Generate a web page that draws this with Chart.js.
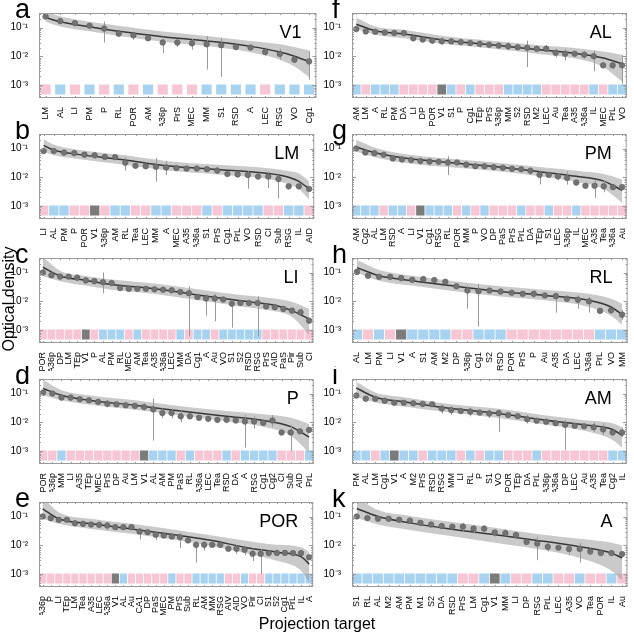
<!DOCTYPE html>
<html>
<head>
<meta charset="utf-8">
<script src="https://cdn.jsdelivr.net/npm/chart.js@4.4.1/dist/chart.umd.min.js"></script>
<style>
  body { margin: 0; background: #fff; width: 634px; height: 639px; position: relative; overflow: hidden;
         font-family: "Liberation Sans", Arial, sans-serif; }
  canvas { position: absolute; }
</style>
</head>
<body>
<canvas id="titles" width="634" height="639" style="left:0;top:0"></canvas>
<script>
// ---- data: one block of small arrays per panel ----
// groups: p = pink, b = blue, g = grey square

// a: V1
const aLabels = ["LM","AL","LI","PM","P","RL","POR","AM","A36p","PrS","MEC","MM","S1","RSD","A","LEC","RSG","VO","Cg1"];
const aGroups = "pbpbpbpbpppbbbbpbbb".split("");
const aValues = [0.24,0.167,0.142,0.115,0.092,0.061,0.054,0.042,0.030,0.030,0.028,0.026,0.024,0.021,0.020,0.014,0.012,0.0076,0.0066];
const aErrIdx = [2,3,4,5,6,7,8,9,10,11,12,13,15,16,17,18];
const aErrLo = [0.11,0.085,0.03,0.05,0.038,0.034,0.013,0.021,0.017,0.0034,0.0019,0.016,0.01,0.0075,0.0058,0.0015];
const aErrHi = [0.17,0.14,0.16,0.07,0.068,0.052,0.047,0.04,0.04,0.05,0.044,0.028,0.018,0.018,0.01,0.015];
const aFitX = [0,1,3,5,8,11,14,16,17,18];
const aFit = [0.225,0.158,0.106,0.074,0.048,0.034,0.022,0.014,0.010,0.0065];
const aBandHi = [0.36,0.245,0.158,0.115,0.072,0.051,0.034,0.026,0.021,0.016];
const aBandLo = [0.158,0.108,0.074,0.051,0.032,0.0225,0.0138,0.0076,0.0044,0.0019];

// b: LM
const bLabels = ["LI","AL","PM","P","POR","V1","A36p","AM","RL","Tea","LEC","MM","A","MEC","A35","A36a","S1","PrS","Cg1","PrL","VO","RSD","CI","Sub","RSG","IL","AID"];
const bGroups = "pbbppgpbbppbbpppbpbbbbppbbp".split("");
const bValues = [0.082,0.082,0.072,0.069,0.061,0.058,0.051,0.050,0.032,0.025,0.024,0.023,0.022,0.021,0.020,0.020,0.019,0.017,0.013,0.0125,0.012,0.0105,0.0105,0.0086,0.0048,0.0048,0.0039];
const bErrIdx = [3,5,8,11,12,17,20,22,23];
const bErrLo = [0.054,0.045,0.017,0.007,0.012,0.013,0.004,0.0042,0.0018];
const bErrHi = [0.088,0.075,0.05,0.047,0.037,0.023,0.017,0.016,0.012];
const bFitX = [0,1,3,8,12,17,22,24,25,26];
const bFit = [0.128,0.088,0.065,0.040,0.025,0.0187,0.0135,0.010,0.0072,0.0039];
const bBandHi = [0.21,0.135,0.095,0.058,0.037,0.027,0.0207,0.0165,0.0135,0.0072];
const bBandLo = [0.078,0.058,0.045,0.027,0.0174,0.0125,0.0086,0.0056,0.0039,0.0017];

// c: LI
const cLabels = ["POR","A36p","DP","LM","TEp","V1","P","AL","PM","RL","MEC","AM","Tea","A35","A36a","LEC","MM","DA","Cg1","A","Au","VO","S1","S2","RSD","RSG","PrS","AID","PaS","Pir","Sub","CI"];
const cGroups = "pppppgpbbbpbppppbpbbpbbbbbpppppp".split("");
const cValues = [0.100,0.080,0.072,0.072,0.066,0.053,0.050,0.046,0.043,0.029,0.027,0.027,0.027,0.026,0.025,0.024,0.021,0.019,0.014,0.0125,0.0125,0.0115,0.0082,0.0087,0.0087,0.0087,0.0066,0.0062,0.0054,0.0047,0.0041,0.0021];
const cErrIdx = [0,4,7,17,19,20,22,25,30];
const cErrLo = [0.08,0.05,0.019,0.0006,0.0031,0.002,0.0012,0.0006,0.0036];
const cErrHi = [0.13,0.085,0.1,0.033,0.018,0.018,0.011,0.015,0.0056];
const cFitX = [0,2,5,8,13,18,23,27,29,31];
const cFit = [0.152,0.076,0.053,0.038,0.027,0.0165,0.0103,0.0072,0.0047,0.0024];
const cBandHi = [0.35,0.115,0.076,0.057,0.041,0.026,0.0165,0.0125,0.0095,0.0054];
const cBandLo = [0.076,0.05,0.035,0.025,0.018,0.011,0.0066,0.0045,0.0029,0.00068];

// d: P
const dLabels = ["POR","A36p","MM","LI","A35","TEp","MEC","PrS","DP","Au","LM","V1","AL","AM","PM","PaS","RL","A36a","LEC","Tea","RSD","DA","A","RSG","Cg1","Cg2","CI","Sub","AID","PrL"];
const dGroups = "ppbppppppppgbbbpbpppbpbbbbpppb".split("");
const dValues = [0.108,0.100,0.072,0.072,0.063,0.058,0.051,0.044,0.042,0.039,0.037,0.034,0.028,0.021,0.021,0.016,0.016,0.0142,0.0131,0.0121,0.0121,0.0115,0.0106,0.0106,0.0095,0.0115,0.0044,0.0044,0.0048,0.0054];
const dErrIdx = [3,4,6,7,11,12,13,14,15,22,23,25,27];
const dErrLo = [0.058,0.05,0.04,0.033,0.025,0.0023,0.014,0.014,0.01,0.0013,0.006,0.007,0.001];
const dErrHi = [0.09,0.08,0.065,0.06,0.045,0.067,0.03,0.03,0.025,0.018,0.016,0.018,0.008];
const dFitX = [0,2,5,10,15,20,24,27,29];
const dFit = [0.15,0.087,0.058,0.039,0.0245,0.016,0.0115,0.0070,0.0030];
const dBandHi = [0.30,0.13,0.087,0.058,0.036,0.0245,0.0188,0.0142,0.0087];
const dBandLo = [0.087,0.058,0.041,0.027,0.0172,0.0108,0.007,0.0034,0.00088];

// e: POR
const eLabels = ["A36p","P","LI","TEp","LM","Tea","A35","LEC","A36a","V1","AL","Au","CA1","DP","PaS","MEC","PM","PrS","Sub","RL","AM","MM","RSG","AIV","AID","VO","Pir","CI","S1","S2","Cg1","PrL","IL","A"];
const eGroups = "pppppppppgbpppppbppbbbbppbppbbbbbb".split("");
const eValues = [0.100,0.0875,0.0765,0.0765,0.0585,0.0555,0.0526,0.0512,0.0485,0.0425,0.0425,0.0425,0.030,0.0284,0.023,0.0217,0.020,0.019,0.0146,0.0103,0.0103,0.0103,0.0103,0.0075,0.0075,0.0069,0.005,0.005,0.0053,0.0054,0.0054,0.0053,0.0053,0.0038];
const eErrIdx = [8,12,14,17,19,20,24,25,26,27];
const eErrLo = [0.035,0.016,0.015,0.008,0.0025,0.0065,0.005,0.0045,0.0028,0.001];
const eErrHi = [0.065,0.04,0.03,0.026,0.014,0.014,0.01,0.009,0.0075,0.0075];
const eFitX = [0,2,6,11,17,21,25,29,32,33];
const eFit = [0.185,0.083,0.0555,0.037,0.0217,0.0146,0.0085,0.0057,0.0040,0.0022];
const eBandHi = [0.47,0.142,0.083,0.0555,0.0325,0.0217,0.0146,0.0103,0.0085,0.0057];
const eBandLo = [0.083,0.0555,0.037,0.0249,0.0146,0.0092,0.0054,0.0029,0.0013,0.0005];

// f: AL
const fLabels = ["AM","LM","A","RL","PM","DA","LI","DP","POR","V1","S1","P","Cg1","TEp","PrS","A36p","MM","S2","RSD","M2","LEC","Au","Tea","A35","A36a","IL","MEC","PrL","VO"];
const fGroups = "bpbbbppppgbpbpppbbbbpppppbpbb".split("");
const fValues = [0.088,0.073,0.071,0.067,0.064,0.064,0.042,0.038,0.035,0.033,0.033,0.031,0.029,0.027,0.025,0.0235,0.0223,0.0206,0.0196,0.0181,0.0181,0.0132,0.0122,0.0122,0.0113,0.0100,0.0048,0.0048,0.0048];
const fErrIdx = [6,8,9,11,13,16,18,20,21,22,24,25,27,28];
const fErrLo = [0.033,0.027,0.025,0.025,0.02,0.016,0.0042,0.014,0.009,0.007,0.008,0.003,0.0035,0.0011];
const fErrHi = [0.055,0.045,0.045,0.038,0.035,0.03,0.035,0.025,0.018,0.018,0.015,0.016,0.0065,0.011];
const fFitX = [0,2,5,9,14,19,24,26,28];
const fFit = [0.13,0.077,0.059,0.0368,0.0255,0.0172,0.0113,0.0087,0.0055];
const fBandHi = [0.22,0.108,0.083,0.052,0.035,0.0248,0.018,0.0146,0.0113];
const fBandLo = [0.088,0.056,0.042,0.027,0.019,0.0122,0.0072,0.0042,0.0013];

// g: PM
const gLabels = ["AM","Cg2","AL","LM","RSD","A","LI","V1","Cg1","RSG","RL","POR","MM","P","VO","DP","PaS","PrS","PrL","DA","TEp","S1","LEC","A36p","IL","MEC","A35","Tea","A36a","Au"];
const gGroups = "bbbpbbpgbbbpbpbpppbppbppbppppp".split("");
const gValues = [0.100,0.0723,0.0688,0.0608,0.0451,0.0418,0.0398,0.0369,0.0352,0.0343,0.0326,0.0326,0.0274,0.0242,0.0242,0.0225,0.0214,0.0198,0.0189,0.0167,0.0121,0.0121,0.0107,0.0094,0.0065,0.0050,0.0050,0.0048,0.0045,0.0045];
const gErrIdx = [0,7,8,10,12,19,20,22,23,26,27];
const gErrLo = [0.085,0.028,0.026,0.012,0.021,0.012,0.0056,0.008,0.0055,0.0019,0.003];
const gErrHi = [0.12,0.045,0.045,0.054,0.034,0.022,0.018,0.014,0.016,0.008,0.008];
const gFitX = [0,2,5,10,15,20,24,27,29];
const gFit = [0.113,0.072,0.0474,0.0326,0.0236,0.0155,0.0107,0.0073,0.0035];
const gBandHi = [0.2,0.108,0.0655,0.0451,0.0326,0.0225,0.0167,0.013,0.0083];
const gBandLo = [0.078,0.0498,0.0326,0.0225,0.0167,0.0107,0.0068,0.0039,0.0013];

// h: RL
const hLabels = ["AL","LM","PM","LI","V1","A","S1","AM","M2","DP","A36p","Cg1","S2","RSD","POR","PrS","P","Au","A35","DA","LEC","A36a","PrL","VO","MM"];
const hGroups = "bpbpgbbbbppbbbppppppppbbb".split("");
const hValues = [0.105,0.0769,0.071,0.071,0.0639,0.0561,0.0591,0.0546,0.0479,0.0331,0.0235,0.0223,0.0235,0.0218,0.0196,0.0181,0.0181,0.0159,0.015,0.0122,0.0113,0.0099,0.0046,0.0048,0.0034];
const hErrIdx = [4,5,7,10,11,16,18,20,21,24];
const hErrLo = [0.05,0.045,0.045,0.0055,0.0013,0.013,0.004,0.0055,0.004,0.0022];
const hErrHi = [0.08,0.07,0.065,0.036,0.04,0.024,0.02,0.016,0.014,0.005];
const hFitX = [0,2,5,9,13,17,21,23,24];
const hFit = [0.148,0.077,0.052,0.033,0.0218,0.0159,0.0107,0.0063,0.0034];
const hBandHi = [0.27,0.123,0.077,0.049,0.033,0.0248,0.0181,0.0122,0.0082];
const hBandLo = [0.1,0.052,0.035,0.0218,0.0147,0.0107,0.0063,0.0031,0.0015];

// i: AM
const iLabels = ["PM","AL","LM","Cg1","V1","A","M2","PrS","RSD","RSG","MM","LI","RL","P","S1","VO","POR","TEp","DA","PrL","A36p","A36a","DP","LEC","Au","A35","Tea","Cg2","IL"];
const iGroups = "bbpbgbbpbbbpbpbbpppbpppppppbb".split("");
const iValues = [0.085,0.0658,0.0658,0.0554,0.0478,0.0478,0.0455,0.0433,0.0422,0.0299,0.0264,0.0246,0.0234,0.0217,0.0202,0.0207,0.0179,0.0162,0.0127,0.0112,0.0104,0.0092,0.0081,0.0075,0.0072,0.0067,0.0056,0.0044,0.0044];
const iErrIdx = [5,9,10,12,14,15,18,22,25,26,28];
const iErrLo = [0.04,0.02,0.018,0.016,0.014,0.0045,0.009,0.0011,0.0045,0.0035,0.003];
const iErrHi = [0.055,0.04,0.035,0.032,0.028,0.028,0.018,0.012,0.01,0.009,0.0065];
const iFitX = [0,2,5,10,15,20,24,27,28];
const iFit = [0.156,0.0744,0.0514,0.0299,0.0202,0.0118,0.0081,0.0056,0.0034];
const iBandHi = [0.255,0.108,0.0744,0.0422,0.0292,0.017,0.0118,0.0092,0.0067];
const iBandLo = [0.0744,0.049,0.0355,0.0217,0.014,0.0081,0.005,0.0024,0.0013];

// k: A
const kLabels = ["S1","RL","AL","M2","AM","PM","M1","S2","DA","RSD","PrS","LM","Cg1","V1","MM","LI","DP","RSG","PrL","LEC","A35","VO","Tea","POR","IL","Au"];
const kGroups = "bbbbbbbbbbppbgbppbbppbppbp".split("");
const kValues = [0.100,0.088,0.0836,0.0836,0.0774,0.0717,0.0599,0.0527,0.0464,0.0441,0.0441,0.0378,0.0378,0.0278,0.0264,0.0227,0.0129,0.0114,0.0088,0.0082,0.0074,0.0074,0.006,0.0053,0.0053,0.0049];
const kErrIdx = [1,3,7,8,10,11,12,13,14,17,18,20,21,22];
const kErrLo = [0.075,0.068,0.045,0.038,0.03,0.025,0.03,0.02,0.02,0.003,0.006,0.0045,0.0025,0.0045];
const kErrHi = [0.1,0.1,0.065,0.055,0.06,0.05,0.05,0.035,0.035,0.02,0.012,0.01,0.012,0.008];
const kFitX = [0,2,5,9,13,17,21,24,25];
const kFit = [0.19,0.1,0.06,0.0359,0.0232,0.0147,0.0088,0.0053,0.0036];
const kBandHi = [0.46,0.167,0.105,0.0647,0.0409,0.0245,0.0167,0.0123,0.01];
const kBandLo = [0.088,0.0527,0.0341,0.0205,0.0123,0.0074,0.0036,0.0013,0.0006];

const yTickValues = [0.001, 0.01, 0.1];
const yTickText = ["10⁻³", "10⁻²", "10⁻¹"];
const squareRange = [0.00048, 0.001];

// ---- layout ----
const FONT = '"Liberation Sans", Arial, sans-serif';
const groupColor = { p: "#f7c6d4", b: "#a8d3f0", g: "#7b7b7b" };
const cols = [
  { left: 0, padR: 3, letterX: 15 },
  { left: 313, padR: 2, letterX: 19 }
];
const rowTops = [13, 134, 258, 379, 502];

const panels = [
  { letter: "a", title: "V1", col: 0, row: 0, labels: aLabels, groups: aGroups, values: aValues, errIdx: aErrIdx, errLo: aErrLo, errHi: aErrHi, fitX: aFitX, fit: aFit, bandHi: aBandHi, bandLo: aBandLo },
  { letter: "b", title: "LM", col: 0, row: 1, labels: bLabels, groups: bGroups, values: bValues, errIdx: bErrIdx, errLo: bErrLo, errHi: bErrHi, fitX: bFitX, fit: bFit, bandHi: bBandHi, bandLo: bBandLo },
  { letter: "c", title: "LI", col: 0, row: 2, labels: cLabels, groups: cGroups, values: cValues, errIdx: cErrIdx, errLo: cErrLo, errHi: cErrHi, fitX: cFitX, fit: cFit, bandHi: cBandHi, bandLo: cBandLo },
  { letter: "d", title: "P", col: 0, row: 3, labels: dLabels, groups: dGroups, values: dValues, errIdx: dErrIdx, errLo: dErrLo, errHi: dErrHi, fitX: dFitX, fit: dFit, bandHi: dBandHi, bandLo: dBandLo },
  { letter: "e", title: "POR", col: 0, row: 4, labels: eLabels, groups: eGroups, values: eValues, errIdx: eErrIdx, errLo: eErrLo, errHi: eErrHi, fitX: eFitX, fit: eFit, bandHi: eBandHi, bandLo: eBandLo },
  { letter: "f", title: "AL", col: 1, row: 0, labels: fLabels, groups: fGroups, values: fValues, errIdx: fErrIdx, errLo: fErrLo, errHi: fErrHi, fitX: fFitX, fit: fFit, bandHi: fBandHi, bandLo: fBandLo },
  { letter: "g", title: "PM", col: 1, row: 1, labels: gLabels, groups: gGroups, values: gValues, errIdx: gErrIdx, errLo: gErrLo, errHi: gErrHi, fitX: gFitX, fit: gFit, bandHi: gBandHi, bandLo: gBandLo },
  { letter: "h", title: "RL", col: 1, row: 2, labels: hLabels, groups: hGroups, values: hValues, errIdx: hErrIdx, errLo: hErrLo, errHi: hErrHi, fitX: hFitX, fit: hFit, bandHi: hBandHi, bandLo: hBandLo },
  { letter: "i", title: "AM", col: 1, row: 3, labels: iLabels, groups: iGroups, values: iValues, errIdx: iErrIdx, errLo: iErrLo, errHi: iErrHi, fitX: iFitX, fit: iFit, bandHi: iBandHi, bandLo: iBandLo },
  { letter: "k", title: "A", col: 1, row: 4, labels: kLabels, groups: kGroups, values: kValues, errIdx: kErrIdx, errLo: kErrLo, errHi: kErrHi, fitX: kFitX, fit: kFit, bandHi: kBandHi, bandLo: kBandLo }
];

function toXY(xs, ys) {
  return xs.map((x, i) => ({ x: x, y: ys[i] }));
}

// shared axis titles
function drawTitles() {
  const ctx = document.getElementById("titles").getContext("2d");
  ctx.fillStyle = "#000";
  ctx.font = "16px " + FONT;
  ctx.textAlign = "center";
  ctx.textBaseline = "middle";
  ctx.fillText("Projection target", 317, 625);
  ctx.save();
  ctx.translate(10, 299);
  ctx.rotate(-Math.PI / 2);
  ctx.fillText("Optical density", 0, 0);
  ctx.restore();
}

function buildPanel(p) {
  const col = cols[p.col];
  const n = p.labels.length;
  const canvas = document.createElement("canvas");
  canvas.width = 321;
  canvas.height = 126;
  canvas.style.left = col.left + "px";
  canvas.style.top = (rowTops[p.row] - 13) + "px";
  document.body.appendChild(canvas);

  // spacing between categories in pixels decides square width
  const spacing = 279 / n;
  const squareW = Math.min(9.5, spacing - 1.6);

  // draws error bars, frame with small ticks, letter and title
  const deco = {
    id: "deco",
    beforeDatasetDraw(chart, args) {
      if (args.index !== 0) return;
      const ctx = chart.ctx, xs = chart.scales.x, ys = chart.scales.y, area = chart.chartArea;
      ctx.save();
      ctx.beginPath();
      ctx.rect(area.left, area.top, area.right - area.left, area.bottom - area.top);
      ctx.clip();
      ctx.strokeStyle = "#999";
      ctx.lineWidth = 1;
      p.errIdx.forEach((idx, k) => {
        const x = Math.round(xs.getPixelForValue(idx)) + 0.5;
        ctx.beginPath();
        ctx.moveTo(x, ys.getPixelForValue(p.errLo[k]));
        ctx.lineTo(x, ys.getPixelForValue(p.errHi[k]));
        ctx.stroke();
      });
      ctx.restore();
    },
    afterDraw(chart) {
      const ctx = chart.ctx, xs = chart.scales.x, ys = chart.scales.y, a = chart.chartArea;
      ctx.save();
      ctx.strokeStyle = "#9a9a9a";
      ctx.lineWidth = 1;
      ctx.strokeRect(a.left + 0.5, a.top + 0.5, a.right - a.left - 1, a.bottom - a.top - 1);
      ctx.beginPath();
      // log minor / major ticks on left and right
      for (let d = -4; d <= 0; d++) {
        for (let m = 1; m <= 9; m++) {
          const v = m * Math.pow(10, d);
          if (v < ys.min || v > ys.max) continue;
          const y = Math.round(ys.getPixelForValue(v)) + 0.5;
          const len = m === 1 ? 4 : 2;
          ctx.moveTo(a.left, y); ctx.lineTo(a.left + len, y);
          ctx.moveTo(a.right, y); ctx.lineTo(a.right - len, y);
        }
      }
      // category ticks on top and bottom
      for (let i = 0; i < n; i++) {
        const x = Math.round(xs.getPixelForValue(i)) + 0.5;
        ctx.moveTo(x, a.top); ctx.lineTo(x, a.top + 2);
        ctx.moveTo(x, a.bottom); ctx.lineTo(x, a.bottom - 2);
      }
      ctx.stroke();
      ctx.fillStyle = "#000";
      ctx.font = "27px " + FONT;
      ctx.textAlign = "left";
      ctx.textBaseline = "alphabetic";
      ctx.fillText(p.letter, col.letterX, a.top + 5);
      ctx.font = "18px " + FONT;
      ctx.textAlign = "right";
      ctx.fillText(p.title, a.right - 15, a.top + 25);
      ctx.restore();
    }
  };

  new Chart(canvas, {
    type: "scatter",
    data: {
      datasets: [
        { type: "scatter", data: toXY(p.values.map((v, i) => i), p.values), order: 0,
          pointRadius: 2.8, backgroundColor: "#727272", borderColor: "#5e5e5e", borderWidth: 0.6 },
        { type: "line", data: toXY(p.fitX, p.fit), order: 1, borderColor: "#383838", borderWidth: 1.5,
          pointRadius: 0, cubicInterpolationMode: "monotone", fill: false },
        { type: "line", data: toXY(p.fitX, p.bandHi), order: 2, borderWidth: 0, pointRadius: 0,
          cubicInterpolationMode: "monotone", fill: "+1", backgroundColor: "rgba(150,150,150,0.5)" },
        { type: "line", data: toXY(p.fitX, p.bandLo), order: 2, borderWidth: 0, pointRadius: 0,
          cubicInterpolationMode: "monotone", fill: false },
        { type: "bar", data: p.groups.map((g, i) => ({ x: i, y: squareRange })), order: 3,
          backgroundColor: p.groups.map(g => groupColor[g]), barThickness: squareW, borderWidth: 0 }
      ]
    },
    options: {
      responsive: false,
      animation: false,
      events: [],
      layout: { padding: { left: 0, top: 13, right: col.padR, bottom: 0 } },
      plugins: { legend: { display: false }, tooltip: { enabled: false } },
      scales: {
        x: {
          type: "linear", min: -0.45, max: n - 0.5, offset: false,
          grid: { display: false }, border: { display: false },
          ticks: { autoSkip: false, minRotation: 90, maxRotation: 90, padding: 1, color: "#000",
                   font: { size: 9, family: FONT }, callback: v => p.labels[v] },
          afterBuildTicks: s => { s.ticks = p.labels.map((l, i) => ({ value: i })); },
          afterFit: s => { s.height = 28; }
        },
        y: {
          type: "logarithmic", min: 0.00035, max: 0.32,
          grid: { display: false }, border: { display: false },
          ticks: { padding: 3, color: "#000", font: { size: 10, family: FONT },
                   callback: v => yTickText[yTickValues.indexOf(v)] },
          afterBuildTicks: s => { s.ticks = yTickValues.map(v => ({ value: v })); },
          afterFit: s => { s.width = 39; }
        }
      }
    },
    plugins: [deco]
  });
}

drawTitles();
panels.forEach(buildPanel);
</script>
</body>
</html>
